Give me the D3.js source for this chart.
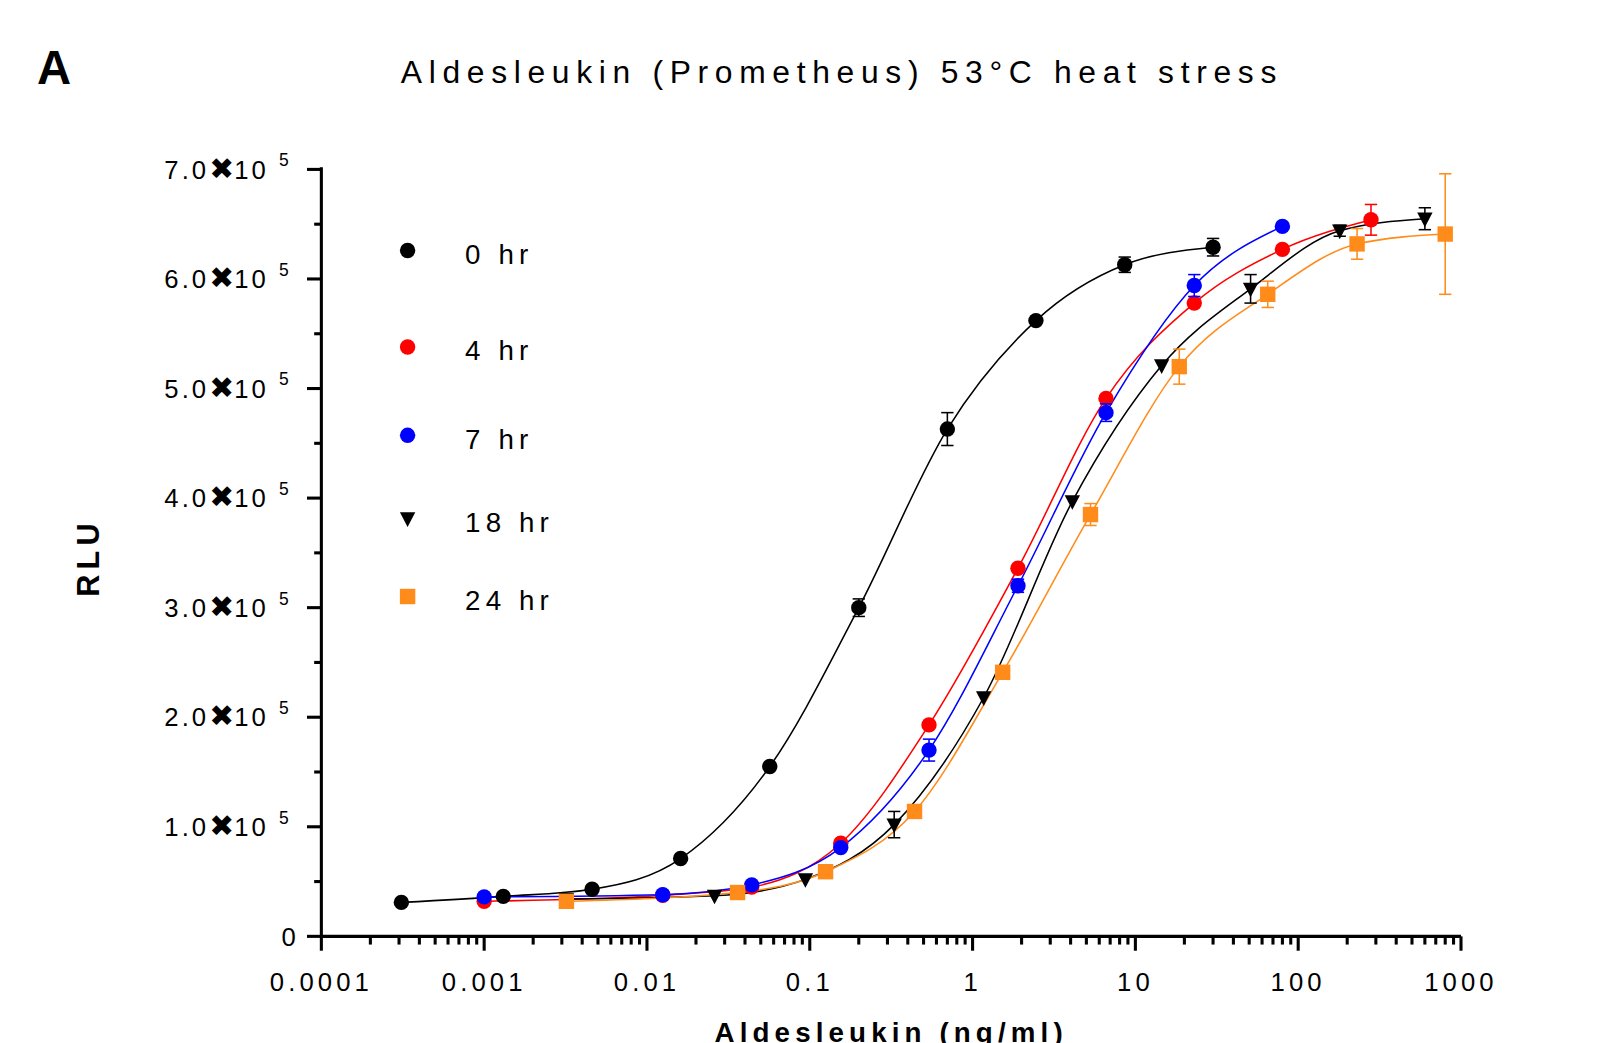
<!DOCTYPE html>
<html>
<head>
<meta charset="utf-8">
<script src="https://cdn.jsdelivr.net/npm/d3@7"></script>
<style>
  body { margin: 0; background: #fff; }
  text { font-family: "Liberation Sans", Arial, sans-serif; }
</style>
</head>
<body>
<svg id="chart" width="1610" height="1043"></svg>
<script>
// concentrations (ng/ml) and RLU values (x1e5)
const conc0 = [0.00031, 0.00131, 0.0046, 0.0161, 0.0568, 0.2, 0.70, 2.45, 8.6, 30];
const rlu0 = [0.31, 0.365, 0.43, 0.71, 1.55, 3.0, 4.63, 5.62, 6.13, 6.29];
const err0 = [0, 0, 0, 0, 0, 0.08, 0.15, 0, 0.07, 0.08];

const conc4 = [0.001, 0.0125, 0.044, 0.155, 0.54, 1.9, 6.6, 23, 80, 280];
const rlu4 = [0.32, 0.375, 0.45, 0.85, 1.93, 3.36, 4.91, 5.78, 6.27, 6.54];
const err4 = [0, 0, 0, 0, 0, 0, 0, 0, 0, 0.14];

const conc7 = [0.001, 0.0125, 0.044, 0.155, 0.54, 1.9, 6.6, 23, 80];
const rlu7 = [0.36, 0.38, 0.47, 0.81, 1.70, 3.2, 4.78, 5.94, 6.48];
const err7 = [0, 0, 0, 0, 0.1, 0.06, 0.08, 0.1, 0];

const conc18 = [0.0032, 0.026, 0.094, 0.33, 1.17, 4.1, 14.5, 51, 180, 600];
const rlu18 = [0.34, 0.37, 0.52, 1.02, 2.18, 3.97, 5.21, 5.91, 6.44, 6.55];
const err18 = [0, 0, 0, 0.12, 0, 0, 0, 0.13, 0.05, 0.1];

const conc24 = [0.0032, 0.036, 0.125, 0.44, 1.53, 5.3, 18.6, 65, 230, 800];
const rlu24 = [0.32, 0.40, 0.59, 1.14, 2.41, 3.85, 5.20, 5.86, 6.32, 6.41];
const err24 = [0, 0, 0, 0, 0, 0.1, 0.16, 0.12, 0.14, 0.55];

const seriesNames = ["0 hr", "4 hr", "7 hr", "18 hr", "24 hr"];
const seriesColors = ["#000000", "#ff0000", "#0000ff", "#000000", "#ff8c1a"];
const seriesShapes = ["circle", "circle", "circle", "triangle", "square"];
const xTicks = [0.0001, 0.001, 0.01, 0.1, 1, 10, 100, 1000];
const xTickLabels = ["0.0001", "0.001", "0.01", "0.1", "1", "10", "100", "1000"];
const yTicks = [0, 1, 2, 3, 4, 5, 6, 7];

const series = [
  [conc0, rlu0, err0], [conc4, rlu4, err4], [conc7, rlu7, err7],
  [conc18, rlu18, err18], [conc24, rlu24, err24]
].map((s, i) => ({
  name: seriesNames[i], color: seriesColors[i], shape: seriesShapes[i],
  pts: s[0].map((c, j) => ({ x: c, y: s[1][j], e: s[2][j] }))
}));

// layout was measured on a 0.974-scaled view of the reference
const svg = d3.select("#chart").append("g").attr("transform", "scale(1.0267)");
const pL = 313, pR = 1423, pT = 165, pB = 912;

const x = d3.scaleLog().domain([0.0001, 1000]).range([pL, pR]);
const y = d3.scaleLinear().domain([0, 7]).range([pB, pT]);

// axes
const minorX = [];
for (let d = -4; d < 3; d++) for (let k = 2; k <= 9; k++) minorX.push(k * Math.pow(10, d));

const xg = svg.append("g").attr("transform", `translate(0,${pB})`);
xg.append("line").attr("x1", pL).attr("x2", pR).attr("stroke", "#000").attr("stroke-width", 3);
xg.selectAll(".mj").data(xTicks).join("line")
  .attr("x1", d => x(d)).attr("x2", d => x(d)).attr("y1", 0).attr("y2", 14)
  .attr("stroke", "#000").attr("stroke-width", 3);
xg.selectAll(".mn").data(minorX).join("line")
  .attr("x1", d => x(d)).attr("x2", d => x(d)).attr("y1", 0).attr("y2", 8)
  .attr("stroke", "#000").attr("stroke-width", 3);
xg.selectAll("text").data(xTicks).join("text")
  .attr("x", d => x(d)).attr("y", 53).attr("text-anchor", "middle")
  .attr("font-size", 25).attr("letter-spacing", 4).text((d, i) => xTickLabels[i]);

const yg = svg.append("g").attr("transform", `translate(${pL},0)`);
yg.append("line").attr("y1", pT - 2).attr("y2", pB).attr("stroke", "#000").attr("stroke-width", 3);
yg.selectAll(".mj").data(yTicks).join("line")
  .attr("y1", d => y(d)).attr("y2", d => y(d)).attr("x1", 0).attr("x2", -14)
  .attr("stroke", "#000").attr("stroke-width", 3);
yg.selectAll(".mn").data(d3.range(0.5, 7, 1)).join("line")
  .attr("y1", d => y(d)).attr("y2", d => y(d)).attr("x1", 0).attr("x2", -7)
  .attr("stroke", "#000").attr("stroke-width", 3);
const yl = yg.selectAll("text").data(yTicks).join("text")
  .attr("y", d => y(d) + 9).attr("font-size", 25).attr("letter-spacing", 3);
yl.filter(d => d === 0).attr("x", -22).attr("text-anchor", "end").text("0");
yl.filter(d => d > 0).each(function (d) {
  const t = d3.select(this).attr("x", -153);
  t.append("tspan").text(d.toFixed(1));
  t.append("tspan").attr("font-weight", "bold").attr("font-size", 29).attr("letter-spacing", 0)
    .attr("font-family", "DejaVu Sans").text("\u2716");
  t.append("tspan").text("10 ");
  t.append("tspan").attr("dy", -12).attr("font-size", 17).text("5");
});

// curves
const line = d3.line().x(d => x(d.x)).y(d => y(d.y)).curve(d3.curveMonotoneX);
series.forEach(s => {
  svg.append("path").attr("d", line(s.pts)).attr("fill", "none")
    .attr("stroke", s.color).attr("stroke-width", 1.5);
});

// error bars + markers
function marker(g, shape, color, size) {
  if (shape === "circle") g.append("circle").attr("r", size).attr("fill", color);
  else if (shape === "square") g.append("rect").attr("x", -size).attr("y", -size)
    .attr("width", 2 * size).attr("height", 2 * size).attr("fill", color);
  else g.append("path").attr("d", `M${-size},${-size * 0.8}L${size},${-size * 0.8}L0,${size * 1.1}Z`).attr("fill", color);
}
series.forEach(s => {
  s.pts.filter(p => p.e > 0).forEach(p => {
    const g = svg.append("g").attr("stroke", s.color).attr("stroke-width", 1.5);
    g.append("line").attr("x1", x(p.x)).attr("x2", x(p.x)).attr("y1", y(p.y - p.e)).attr("y2", y(p.y + p.e));
    [p.y - p.e, p.y + p.e].forEach(v => g.append("line")
      .attr("x1", x(p.x) - 6).attr("x2", x(p.x) + 6).attr("y1", y(v)).attr("y2", y(v)));
  });
  s.pts.forEach(p => {
    marker(svg.append("g").attr("transform", `translate(${x(p.x)},${y(p.y)})`), s.shape, s.color, 7.5);
  });
});

// legend
const legY = [244, 338, 424, 505, 581];
series.forEach((s, i) => {
  marker(svg.append("g").attr("transform", `translate(397,${legY[i]})`), s.shape, s.color, 7.5);
  svg.append("text").attr("x", 453).attr("y", legY[i] + 13).attr("font-size", 27)
    .attr("letter-spacing", 5).text(s.name);
});

// titles
svg.append("text").attr("x", 36).attr("y", 82).attr("font-size", 46).attr("font-weight", "bold").text("A");
svg.append("text").attr("x", 820).attr("y", 81).attr("text-anchor", "middle").attr("font-size", 31)
  .attr("letter-spacing", 6.5).text("Aldesleukin (Prometheus) 53\u00B0C heat stress");
svg.append("text").attr("transform", "translate(96,543) rotate(-90)").attr("text-anchor", "middle")
  .attr("font-size", 30).attr("font-weight", "bold").attr("letter-spacing", 5).text("RLU");
svg.append("text").attr("x", 868).attr("y", 1015).attr("text-anchor", "middle")
  .attr("font-size", 27).attr("font-weight", "bold").attr("letter-spacing", 5).text("Aldesleukin (ng/ml)");
</script>
</body>
</html>
